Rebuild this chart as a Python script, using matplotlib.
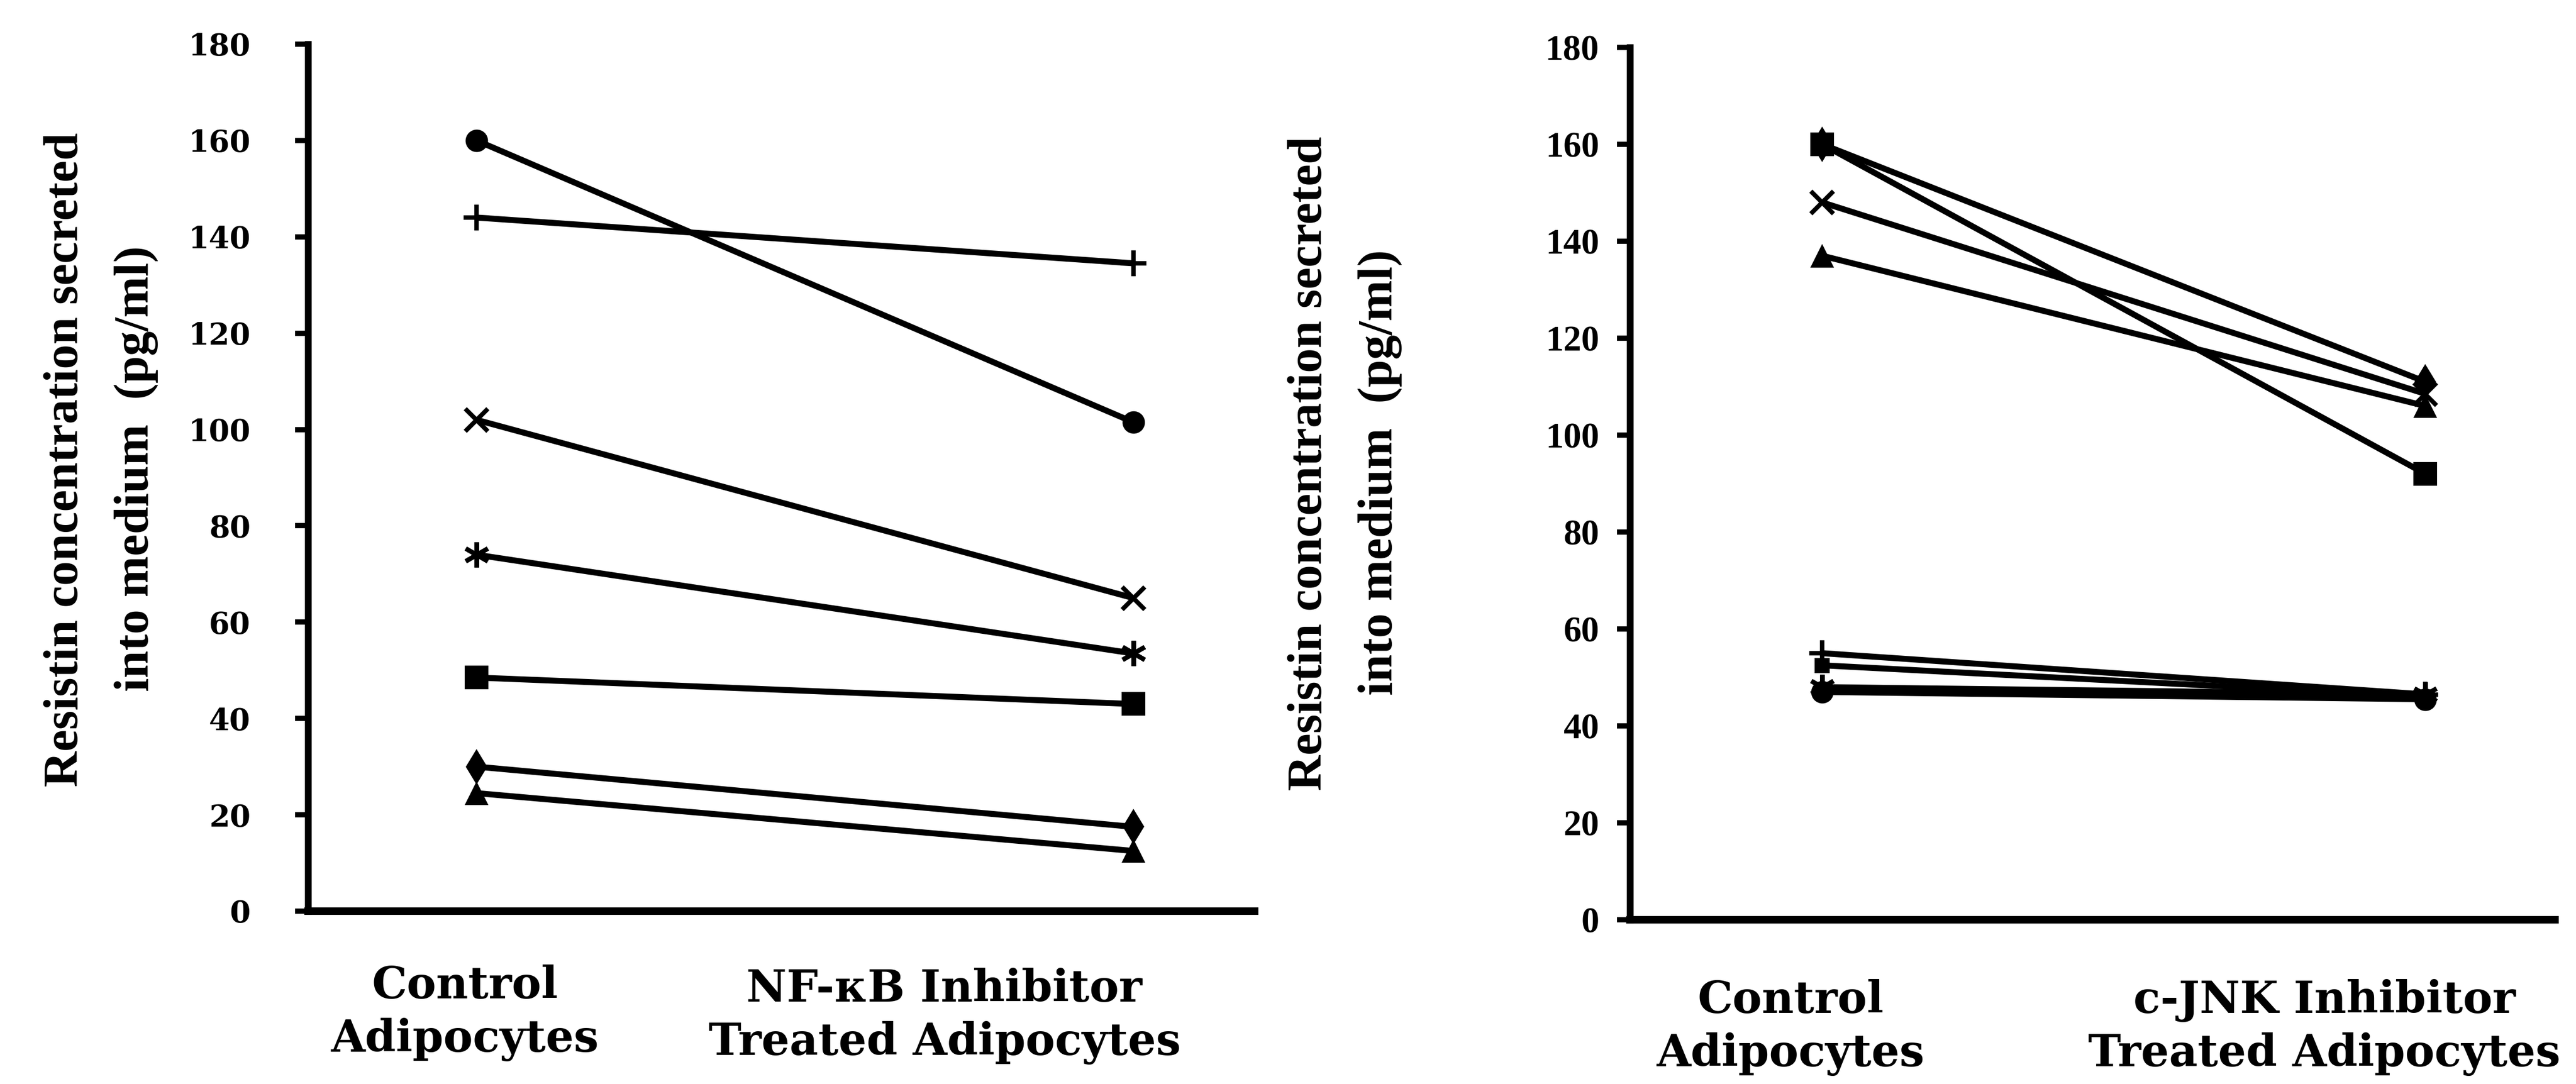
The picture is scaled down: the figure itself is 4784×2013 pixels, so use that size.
import matplotlib
matplotlib.use("Agg")
import matplotlib.pyplot as plt

W, H, DPI = 4784, 2013, 100

# Resistin secreted (pg/ml): control vs inhibitor-treated adipocytes
yticks = [0, 20, 40, 60, 80, 100, 120, 140, 160, 180]

nfkb_control = [160, 144, 102, 74, 48.5, 30, 24.5]
nfkb_treated = [101.5, 134.5, 65, 53.5, 43, 17.5, 12.5]
nfkb_markers = ["circle", "plus", "x", "asterisk", "square", "diamond", "triangle"]

jnk_control = [160, 160, 148, 137, 55, 52.5, 48, 47]
jnk_treated = [92, 111, 108.5, 106, 46.5, 46, 46.5, 45.5]
jnk_markers = ["square", "diamond", "x", "triangle", "plus", "small_square", "asterisk", "circle"]

left_xlabels = ["Control\nAdipocytes", "NF-\u03baB Inhibitor\nTreated Adipocytes"]
right_xlabels = ["Control\nAdipocytes", "c-JNK Inhibitor\nTreated Adipocytes"]
ylabel_lines = ["Resistin concentration secreted", "into medium  (pg/ml)"]

MARKER_STYLE = {
    "circle": dict(marker="o", ms=30, mew=0),
    "plus": dict(marker="+", ms=34, mew=6),
    "x": dict(marker="x", ms=30, mew=6),
    "asterisk": dict(marker=(6, 2, 0), ms=34, mew=6),
    "square": dict(marker="s", ms=31, mew=0),
    "small_square": dict(marker="s", ms=20, mew=0),
    "diamond": dict(marker="d", ms=34, mew=0),
    "triangle": dict(marker="^", ms=31, mew=0),
}

fig = plt.figure(figsize=(W / DPI, H / DPI), dpi=DPI)
fig.patch.set_facecolor("white")


def px_axes(x0, x1, y_top, y_bottom):
    return fig.add_axes([x0 / W, 1 - y_bottom / H, (x1 - x0) / W, (y_bottom - y_top) / H])


def draw_panel(ax, xpos, control, treated, markers, tick_font, tick_size, tick_pad):
    for c, t in zip(control, treated):
        ax.plot(xpos, [c, t], color="black", lw=8, solid_capstyle="butt", zorder=2)
    for c, t, m in zip(control, treated, markers):
        st = MARKER_STYLE[m]
        ax.plot(xpos, [c, t], ls="none", marker=st["marker"], ms=st["ms"],
                mew=st["mew"], mfc="black", mec="black", zorder=3)
    ax.set_xlim(0, 1)
    ax.set_ylim(0, 180)
    ax.set_yticks(yticks)
    ax.set_yticklabels([str(v) for v in yticks], fontfamily=tick_font,
                       fontweight="bold", fontsize=tick_size)
    ax.set_xticks([])
    for s in ("top", "right"):
        ax.spines[s].set_visible(False)
    ax.spines["left"].set_linewidth(9)
    ax.spines["bottom"].set_linewidth(10)
    ax.spines["left"].set_capstyle("projecting")
    ax.tick_params(axis="y", direction="out", length=17, width=7, pad=tick_pad)
    ax.patch.set_alpha(0)


# NF-kB panel
axL = px_axes(572, 2330, 82, 1692)
draw_panel(axL, [0.178, 0.872], nfkb_control, nfkb_treated, nfkb_markers,
           "DejaVu Serif", 40, 60)

# c-JNK panel
axR = px_axes(3027, 4745, 88, 1708)
draw_panel(axR, [0.208, 0.860], jnk_control, jnk_treated, jnk_markers,
           "Liberation Serif", 48, 24)


def ftext(x, y, s, **kw):
    fig.text(x / W, 1 - y / H, s, **kw)


label_kw = dict(fontfamily="DejaVu Serif", fontweight="bold", fontsize=59,
                ha="center", va="center", linespacing=1.3)
ftext(863, 1881, left_xlabels[0], **label_kw)
ftext(1754, 1887, left_xlabels[1], **label_kw)
ftext(3326, 1908, right_xlabels[0], **label_kw)
ftext(4317, 1908, right_xlabels[1], **label_kw)

ylab_kw = dict(fontfamily="Liberation Serif", fontweight="bold", fontsize=66,
               rotation=90, ha="center", va="center")
ftext(122, 854, ylabel_lines[0], **ylab_kw)
ftext(253, 870, ylabel_lines[1], **ylab_kw)
ftext(2432, 861, ylabel_lines[0], **ylab_kw)
ftext(2563, 877, ylabel_lines[1], **ylab_kw)

fig.savefig("out.png", dpi=DPI, facecolor="white")
